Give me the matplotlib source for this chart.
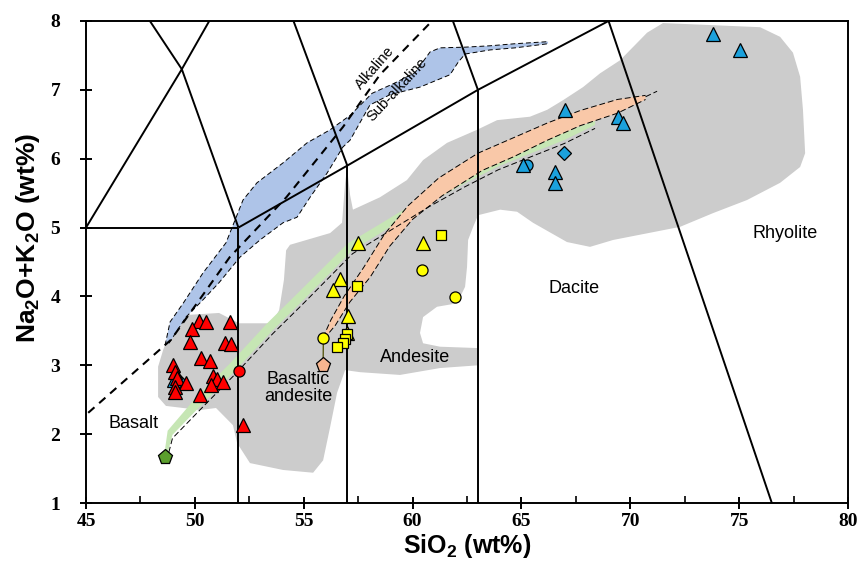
import matplotlib
matplotlib.use("Agg")
import matplotlib.pyplot as plt
from matplotlib.ticker import MultipleLocator

plt.rcParams["mathtext.fontset"] = "custom"
plt.rcParams["mathtext.rm"] = "Liberation Sans:bold"
plt.rcParams["mathtext.bf"] = "Liberation Sans:bold"

# TAS classification boundaries (SiO2, Na2O+K2O)
tas_lines = [
    [(45, 5), (52, 5)],
    [(52, 1), (52, 5)],
    [(57, 1), (57, 5.9)],
    [(63, 1), (63, 7)],
    [(52, 5), (57, 5.9), (63, 7), (69, 8)],
    [(69, 8), (76.5, 1)],
    [(45, 5), (49.4, 7.3), (52, 5)],
    [(49.4, 7.3), (45, 9.4)],
    [(49.4, 7.3), (53, 9.3)],
    [(57, 5.9), (53, 9.3)],
    [(63, 7), (57.6, 11.7)],
]

# Irvine & Baragar alkaline / sub-alkaline divide
ib_sio2 = [45.1, 48.9, 51.6, 54.2, 56.8, 58.5, 60.8]
ib_alk = [2.31, 3.37, 4.57, 5.44, 6.46, 7.22, 7.97]

# grey compilation field
grey_sio2 = [49.00, 49.59, 51.11, 52.03, 53.54, 53.87, 54.09, 54.19, 54.37, 56.21,
             56.76, 56.90, 56.99, 57.13, 57.26, 58.50, 59.74, 60.48, 61.58, 62.96,
             63.88, 65.39, 66.18, 66.91, 67.83, 68.61, 69.53, 70.77, 71.50, 75.96,
             76.88, 77.47, 77.80, 77.93, 78.03, 77.80, 76.88, 75.36, 73.80, 72.28,
             69.21, 68.15, 67.09, 65.53, 64.80, 64.02, 63.01, 62.78, 62.55, 62.50,
             62.41, 62.04, 61.12, 60.48, 60.34, 60.48, 61.26, 63.01, 63.01, 61.26,
             59.42, 57.59, 56.90, 56.53, 56.21, 55.89, 55.43, 54.05, 52.53, 51.94,
             51.75, 50.97, 50.24, 48.67, 48.31, 48.31, 48.54]
grey_alk = [3.61, 3.73, 3.76, 3.61, 3.61, 3.80, 4.24, 4.67, 4.75, 4.92,
            5.07, 5.65, 5.87, 5.47, 5.26, 5.44, 5.69, 5.98, 6.23, 6.42,
            6.56, 6.61, 6.71, 6.85, 7.04, 7.24, 7.43, 7.83, 7.97, 7.91,
            7.77, 7.54, 7.19, 6.71, 6.08, 5.88, 5.65, 5.40, 5.21, 5.01,
            4.82, 4.72, 4.79, 5.07, 5.23, 5.26, 5.18, 5.01, 4.82, 4.43,
            4.14, 3.90, 3.85, 3.70, 3.47, 3.32, 3.27, 3.25, 3.00, 2.96,
            2.86, 2.90, 2.93, 2.60, 2.10, 1.62, 1.44, 1.48, 1.58, 1.87,
            2.13, 2.38, 2.35, 2.41, 2.54, 2.98, 3.22]

# blue band (upper edge then lower edge)
blue_up_sio2 = [48.63, 48.86, 49.46, 50.37, 51.43, 52.21, 52.85, 54.05, 55.15, 56.21,
                57.13, 58.14, 59.19, 60.11, 60.80, 61.26, 62.41, 63.56, 64.71, 66.22]
blue_up_alk = [3.29, 3.63, 3.90, 4.34, 4.78, 5.40, 5.65, 5.94, 6.23, 6.42,
               6.63, 6.95, 7.10, 7.25, 7.55, 7.61, 7.62, 7.64, 7.67, 7.70]
blue_lo_sio2 = [48.81, 49.59, 50.37, 51.11, 52.07, 52.99, 54.05, 54.69, 55.29, 56.07,
                56.80, 57.13, 58.04, 58.96, 60.34, 61.72, 62.09, 62.41, 63.56, 64.71, 66.22]
blue_lo_alk = [3.32, 3.70, 3.95, 4.20, 4.57, 4.82, 5.07, 5.15, 5.44, 5.79,
               6.17, 6.27, 6.78, 6.93, 7.04, 7.22, 7.40, 7.52, 7.58, 7.61, 7.67]

# orange model band
orange_up_sio2 = [55.88, 56.25, 56.85, 57.75, 58.70, 59.80, 61.20, 63.00, 64.60, 66.20, 67.70, 69.40, 70.70]
orange_up_alk = [3.40, 3.66, 4.00, 4.42, 4.90, 5.32, 5.72, 6.08, 6.30, 6.52, 6.70, 6.86, 6.92]
orange_lo_sio2 = [55.92, 56.45, 57.12, 58.05, 58.95, 60.00, 61.35, 63.20, 64.65, 66.20, 67.70, 69.40, 70.70]
orange_lo_alk = [3.38, 3.58, 3.92, 4.28, 4.73, 5.12, 5.46, 5.83, 6.03, 6.27, 6.48, 6.66, 6.86]
orange_tail_sio2 = [70.70, 71.23]
orange_tail_alk = [6.90, 6.98]

# green model band
green_up_sio2 = [48.60, 48.75, 50.10, 51.62, 53.32, 54.70, 57.02, 58.55, 60.58, 62.25, 63.82, 65.33, 66.86, 68.38]
green_up_alk = [1.72, 2.05, 2.55, 3.03, 3.61, 4.04, 4.77, 5.06, 5.45, 5.74, 5.99, 6.18, 6.37, 6.55]
green_lo_sio2 = [48.70, 48.97, 50.38, 51.88, 53.58, 54.96, 57.24, 58.73, 60.74, 62.39, 63.94, 65.45, 66.96, 68.38]
green_lo_alk = [1.66, 1.99, 2.45, 2.93, 3.51, 3.94, 4.67, 4.96, 5.35, 5.64, 5.89, 6.08, 6.27, 6.49]

# samples
red_tri_sio2 = [50.17, 50.51, 51.60, 49.86, 49.76, 51.39, 51.65, 50.27, 50.68, 49.01,
                49.10, 49.19, 49.59, 49.10, 49.10, 50.82, 51.01, 51.28, 50.73, 50.24, 52.20]
red_tri_alk = [3.65, 3.63, 3.63, 3.52, 3.34, 3.33, 3.31, 3.11, 3.06, 3.01,
               2.90, 2.82, 2.75, 2.68, 2.61, 2.84, 2.80, 2.76, 2.71, 2.57, 2.13]
red_dot_sio2 = [52.04]
red_dot_alk = [2.91]

yel_tri_sio2 = [57.51, 56.67, 56.36, 57.05, 60.49, 57.00]
yel_tri_alk = [4.77, 4.26, 4.10, 3.72, 4.78, 3.47]
yel_sq_sio2 = [61.29, 57.43, 57.00, 56.90, 56.79, 56.52]
yel_sq_alk = [4.89, 4.15, 3.45, 3.38, 3.32, 3.27]
yel_dot_sio2 = [55.90, 60.45, 61.95]
yel_dot_alk = [3.39, 4.39, 3.99]

blue_tri_sio2 = [67.00, 65.06, 66.54, 66.54, 73.81, 75.04, 69.45, 69.68, 49.04]
blue_tri_alk = [6.71, 5.91, 5.81, 5.65, 7.81, 7.58, 6.61, 6.52, 2.78]
blue_dot_sio2 = [65.24]
blue_dot_alk = [5.91]
blue_dia_sio2 = [66.97, 49.30]
blue_dia_alk = [6.08, 2.76]

green_start = (48.63, 1.67)
orange_start = (55.89, 3.00)

field_names = ["Basalt", "Basaltic\nandesite", "Andesite", "Dacite", "Rhyolite"]
field_pos = [(47.2, 2.16), (54.75, 2.67), (60.1, 3.12), (67.4, 4.12), (77.1, 4.92)]

fig = plt.figure(figsize=(8.62, 5.72), dpi=100)
ax = fig.add_axes([0.0998, 0.1206, 0.884, 0.8427])

ax.fill(grey_sio2, grey_alk, color="#cccccc", lw=0, zorder=1)

ax.fill(blue_up_sio2 + blue_lo_sio2[::-1], blue_up_alk + blue_lo_alk[::-1],
        color="#aec4e8", lw=0, zorder=2)
ax.plot(blue_up_sio2, blue_up_alk, color="k", lw=0.7, ls=(0, (5, 3)), zorder=3)
ax.plot(blue_lo_sio2, blue_lo_alk, color="k", lw=0.7, ls=(0, (5, 3)), zorder=3)

ax.fill(green_up_sio2 + green_lo_sio2[::-1], green_up_alk + green_lo_alk[::-1],
        color="#c6e6b4", lw=0, zorder=2)
ax.plot(green_lo_sio2, [a - 0.05 for a in green_lo_alk], color="k", lw=0.7,
        ls=(0, (6, 3)), zorder=3)

ax.fill(orange_up_sio2 + orange_lo_sio2[::-1], orange_up_alk + orange_lo_alk[::-1],
        color="#f9c8a8", lw=0, zorder=2)
ax.plot(orange_up_sio2, orange_up_alk, color="k", lw=0.7, ls=(0, (6, 3)), zorder=3)
ax.plot(orange_lo_sio2, orange_lo_alk, color="k", lw=0.7, ls=(0, (6, 3)), zorder=3)
ax.plot(orange_tail_sio2, orange_tail_alk, color="k", lw=0.7, ls=(0, (6, 3)), zorder=3)

for seg in tas_lines:
    xs, ys = zip(*seg)
    ax.plot(xs, ys, color="k", lw=1.4, zorder=4, solid_capstyle="butt")

ax.plot(ib_sio2, ib_alk, color="k", lw=1.5, ls=(0, (4, 3)), zorder=4)

ax.plot([orange_start[0], yel_dot_sio2[0]], [orange_start[1], yel_dot_alk[0]],
        color="#4d4d00", lw=0.9, zorder=5)

mk = dict(ls="none", mec="k", mew=0.9, zorder=6)
ax.plot(blue_dia_sio2, blue_dia_alk, "D", ms=7, mfc="#1ba1dc", **mk)
ax.plot(blue_dot_sio2, blue_dot_alk, "o", ms=8, mfc="#1ba1dc", **mk)
ax.plot(blue_tri_sio2, blue_tri_alk, "^", ms=10, mfc="#1ba1dc", **mk)
ax.plot(red_dot_sio2, red_dot_alk, "o", ms=8, mfc="#ff0000", **mk)
ax.plot(red_tri_sio2, red_tri_alk, "^", ms=10, mfc="#ff0000", **mk)
ax.plot(yel_dot_sio2, yel_dot_alk, "o", ms=8, mfc="#ffff00", **mk)
ax.plot(yel_tri_sio2, yel_tri_alk, "^", ms=10, mfc="#ffff00", **mk)
ax.plot(yel_sq_sio2, yel_sq_alk, "s", ms=7.5, mfc="#ffff00", **mk)
ax.plot(*green_start, "p", ms=11, mfc="#5b9e2d", **mk)
ax.plot(*orange_start, "p", ms=11, mfc="#f7b58f", **mk)

for name, (x, y) in zip(field_names, field_pos):
    ax.text(x, y, name, ha="center", va="center", fontsize=13,
            family="Liberation Sans", linespacing=0.95, zorder=7)
ax.text(58.27, 7.32, "Alkaline", rotation=49, ha="center", va="center",
        fontsize=10.5, family="Liberation Sans", zorder=7)
ax.text(59.3, 7.0, "Sub-alkaline", rotation=47, ha="center", va="center",
        fontsize=10.5, family="Liberation Sans", zorder=7)

ax.set_xlim(45, 80)
ax.set_ylim(1, 8)
ax.xaxis.set_major_locator(MultipleLocator(5))
ax.xaxis.set_minor_locator(MultipleLocator(2.5))
ax.yaxis.set_major_locator(MultipleLocator(1))
ax.tick_params(which="major", direction="inout", length=9, width=1.4)
ax.tick_params(which="minor", direction="in", length=5, width=1.2)
ax.tick_params(axis="y", pad=14)
ax.tick_params(axis="x", pad=3)
for lab in ax.get_xticklabels() + ax.get_yticklabels():
    lab.set_family("Liberation Serif")
    lab.set_fontweight("bold")
    lab.set_fontsize(14)
for sp in ax.spines.values():
    sp.set_linewidth(1.4)

ax.set_xlabel(r"SiO$_\mathrm{2}$ (wt%)", fontsize=18, fontweight="bold",
              family="Liberation Sans", labelpad=1)
ax.set_ylabel(r"Na$_\mathrm{2}$O+K$_\mathrm{2}$O (wt%)", fontsize=19,
              fontweight="bold", family="Liberation Sans")
ax.yaxis.set_label_coords(-0.058, 0.55)

fig.savefig("out.png", dpi=100)
